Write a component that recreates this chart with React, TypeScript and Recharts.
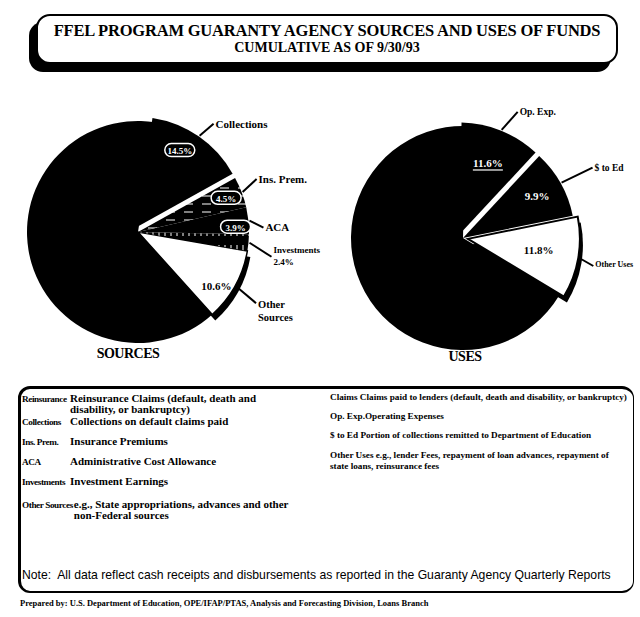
import React from "react";
import { PieChart, Pie, Cell } from "recharts";

// slices listed counter-clockwise, starting at the bottom edge of the white slice
const sourceNames = ["Other Sources", "Investments", "ACA", "Ins. Prem.", "Collections", "Reinsurance"];
const sourceShares = [10.6, 2.4, 3.9, 4.5, 14.5, 64.1];
const useNames = ["Other Uses", "$ to Ed", "Op. Exp.", "Claims"];
const useShares = [11.8, 9.9, 11.6, 66.7];

const sourceTerms = ["Reinsurance", "Collections", "Ins. Prem.", "ACA", "Investments", "Other Sources"];
const sourceDefs = [
  ["Reinsurance Claims (default, death and", "disability, or bankruptcy)"],
  ["Collections on default claims paid"],
  ["Insurance Premiums"],
  ["Administrative Cost Allowance"],
  ["Investment Earnings"],
  ["e.g., State appropriations, advances and other", "non-Federal sources"],
];
const useTerms = ["Claims", "Op. Exp.", "$ to Ed", "Other Uses"];
const useDefs = [
  ["Claims paid to lenders (default, death and disability, or bankruptcy)"],
  ["Operating Expenses"],
  ["Portion of collections remitted to Department of Education"],
  ["e.g., lender Fees, repayment of loan advances, repayment of", "state loans, reinsurance fees"],
];

const SERIF = "'Liberation Serif', 'Times New Roman', serif";
const SANS = "'Liberation Sans', Arial, sans-serif";
const RAD = Math.PI / 180;

const SRC = { cx: 133, cy: 227, r: 111, start: -48 };
const USE = { cx: 458, cy: 233, r: 112, start: -31 };

function polar(cx: number, cy: number, r: number, deg: number): [number, number] {
  return [cx + r * Math.cos(deg * RAD), cy - r * Math.sin(deg * RAD)];
}

// angle where slice i begins (counter-clockwise)
function sliceStart(shares: number[], start: number, i: number) {
  const total = shares.reduce((a, b) => a + b, 0);
  const before = shares.slice(0, i).reduce((a, b) => a + b, 0);
  return start + (before / total) * 360;
}
function sliceMid(shares: number[], start: number, i: number) {
  const total = shares.reduce((a, b) => a + b, 0);
  return sliceStart(shares, start, i) + (shares[i] / total) * 180;
}

const srcData = sourceNames.map((name, i) => ({ name, value: sourceShares[i] }));
const useData = useNames.map((name, i) => ({ name, value: useShares[i] }));

// exploded slices
const collIdx = sourceNames.indexOf("Collections");
const collOff = polar(0, 0, 5, sliceStart(sourceShares, SRC.start, collIdx) + 90);
const opIdx = useNames.indexOf("Op. Exp.");
const opOff = polar(0, 0, 5, sliceStart(useShares, USE.start, opIdx) + 90);
const ouIdx = useNames.indexOf("Other Uses");
const ouOff = polar(0, 0, 5, sliceMid(useShares, USE.start, ouIdx));

const srcFills: Record<string, string> = {
  Reinsurance: "#000",
  Collections: "none",
  "Ins. Prem.": "url(#hatchH)",
  ACA: "#000",
  Investments: "url(#hatchV)",
  "Other Sources": "#fff",
};
const useFills: Record<string, string> = {
  Claims: "#000",
  "Op. Exp.": "none",
  "$ to Ed": "#000",
  "Other Uses": "none",
};

type LabelCfg = {
  out?: string[];
  withPct?: boolean;
  lead: [number, number];
  textDx?: number;
  textDy?: number;
  fs: number;
  inner?: "pill" | "white" | "under" | "dark";
  inR?: number;
  inAdj?: number;
};

const srcCfg: Record<string, LabelCfg> = {
  Collections: { out: ["Collections"], lead: [14, -12], fs: 11, inner: "pill", inR: 0.8, inAdj: 5 },
  "Ins. Prem.": { out: ["Ins. Prem."], lead: [14, -13], fs: 11, inner: "pill", inR: 0.85 },
  ACA: { out: ["ACA"], lead: [14, 7], fs: 11, inner: "pill", inR: 0.88, inAdj: -3 },
  Investments: { out: ["Investments"], withPct: true, lead: [22, 14], textDy: -7, fs: 9 },
  "Other Sources": { out: ["Other", "Sources"], lead: [20, 17], textDy: 1, fs: 10.5, inner: "dark", inR: 0.86, inAdj: -6 },
};
const useCfg: Record<string, LabelCfg> = {
  "Op. Exp.": { out: ["Op. Exp."], lead: [16, -18], fs: 9.5, inner: "under", inR: 0.68 },
  "$ to Ed": { out: ["$ to Ed"], lead: [31, -15], fs: 9.5, inner: "white", inR: 0.76 },
  "Other Uses": { out: ["Other Uses"], lead: [14, 8], textDx: 0, textDy: -2, fs: 8, inner: "dark", inR: 0.64 },
};

function makeLabel(names: string[], cfgs: Record<string, LabelCfg>, offsets: Record<number, [number, number]>) {
  return (p: any) => {
    const i = p.index;
    const c = cfgs[names[i]];
    if (!c) return null;
    const off = offsets[i] || [0, 0];
    const cx = p.cx + off[0];
    const cy = p.cy + off[1];
    const pct = `${Number(p.value).toFixed(1)}%`;
    const [sx, sy] = polar(cx, cy, p.outerRadius + 1, p.midAngle);
    const ex = sx + c.lead[0];
    const ey = sy + c.lead[1];
    const lines = c.out ? [...c.out] : [];
    if (c.withPct) lines.push(pct);
    const tx = ex + 2 + (c.textDx || 0);
    const ty = ey + c.fs * 0.35 + (c.textDy || 0);
    const parts: React.ReactNode[] = [];
    parts.push(<line key="l" x1={sx} y1={sy} x2={ex} y2={ey} stroke="#000" strokeWidth={2} />);
    parts.push(
      <text key="t" x={tx} y={ty} fontFamily={SERIF} fontWeight="bold" fontSize={c.fs} fill="#000">
        {lines.map((s, k) => (
          <tspan key={k} x={tx} dy={k === 0 ? 0 : c.fs * 1.3}>{s}</tspan>
        ))}
      </text>
    );
    if (c.inner) {
      const [ix, iy] = polar(cx, cy, p.outerRadius * (c.inR || 0.8), p.midAngle + (c.inAdj || 0));
      const fill = c.inner === "dark" ? "#000" : "#fff";
      if (c.inner === "pill") {
        parts.push(<rect key="p" x={ix - 15} y={iy - 7} width={30} height={13} rx={6.5} fill="#000" stroke="#fff" strokeWidth={1.5} />);
      }
      if (c.inner === "under") {
        parts.push(<line key="u" x1={ix - 15} y1={iy + 6} x2={ix + 15} y2={iy + 6} stroke="#fff" strokeWidth={1.2} />);
      }
      parts.push(
        <text key="i" x={ix} y={iy + 3.5} textAnchor="middle" fontFamily={SERIF} fontWeight="bold" fontSize={c.inner === "pill" ? 9 : 11} fill={fill}>
          {pct}
        </text>
      );
    }
    return <g>{parts}</g>;
  };
}

const srcLabel = makeLabel(sourceNames, srcCfg, { [collIdx]: collOff });
const useLabel = makeLabel(useNames, useCfg, { [opIdx]: opOff, [ouIdx]: ouOff });

export default function App() {
  return (
    <div style={{ position: "absolute", left: 0, top: 0, width: 640, height: 617, background: "#fff", fontFamily: SERIF, overflow: "hidden" }}>
      {/* title box */}
      <div
        style={{
          position: "absolute", left: 36, top: 14, width: 578, height: 46,
          border: "2px solid #000", borderRadius: 14, boxShadow: "-7px 8px 0 0 #000",
          textAlign: "center", fontWeight: "bold", background: "#fff",
        }}
      >
        <div style={{ fontSize: 16.5, marginTop: 6, lineHeight: "17px", letterSpacing: -0.2, whiteSpace: "nowrap" }}>
          FFEL PROGRAM GUARANTY AGENCY SOURCES AND USES OF FUNDS
        </div>
        <div style={{ fontSize: 14, lineHeight: "17px" }}>CUMULATIVE AS OF 9/30/93</div>
      </div>

      <div style={{ position: "absolute", left: 0, top: 0 }}>
        <PieChart width={640} height={375}>
          <defs>
            <pattern id="hatchH" width="18" height="8" patternUnits="userSpaceOnUse">
              <rect width="18" height="8" fill="#000" />
              <line x1="4" y1="4" x2="13" y2="4" stroke="#fff" strokeWidth="1" />
            </pattern>
            <pattern id="hatchV" width="6" height="16" patternUnits="userSpaceOnUse">
              <rect width="6" height="16" fill="#000" />
              <line x1="3" y1="5" x2="3" y2="12" stroke="#fff" strokeWidth="1" />
            </pattern>
          </defs>

          {/* SOURCES: shadow under white slice */}
          <Pie data={srcData} dataKey="value" nameKey="name" cx={SRC.cx + 3} cy={SRC.cy + 6} outerRadius={SRC.r}
            startAngle={SRC.start} endAngle={SRC.start + 360} isAnimationActive={false} stroke="none" label={false}>
            {sourceNames.map((n) => <Cell key={n} fill={n === "Other Sources" ? "#000" : "none"} stroke="none" />)}
          </Pie>
          <Pie data={srcData} dataKey="value" nameKey="name" cx={SRC.cx} cy={SRC.cy} outerRadius={SRC.r}
            startAngle={SRC.start} endAngle={SRC.start + 360} isAnimationActive={false} label={false}>
            {sourceNames.map((n) => (
              <Cell key={n} fill={srcFills[n]} stroke={n === "Other Sources" ? "#000" : "none"} strokeWidth={1.5} />
            ))}
          </Pie>
          <Pie data={srcData} dataKey="value" nameKey="name" cx={SRC.cx + collOff[0]} cy={SRC.cy + collOff[1]} outerRadius={SRC.r}
            startAngle={SRC.start} endAngle={SRC.start + 360} isAnimationActive={false} label={false}>
            {sourceNames.map((n) => <Cell key={n} fill={n === "Collections" ? "#000" : "none"} stroke="none" />)}
          </Pie>
          <Pie data={srcData} dataKey="value" nameKey="name" cx={SRC.cx} cy={SRC.cy} outerRadius={SRC.r}
            startAngle={SRC.start} endAngle={SRC.start + 360} isAnimationActive={false} label={srcLabel} labelLine={false}>
            {sourceNames.map((n) => <Cell key={n} fill="none" stroke="none" />)}
          </Pie>

          {/* USES */}
          <Pie data={useData} dataKey="value" nameKey="name" cx={USE.cx + ouOff[0] + 3} cy={USE.cy + ouOff[1] + 6} outerRadius={USE.r}
            startAngle={USE.start} endAngle={USE.start + 360} isAnimationActive={false} label={false}>
            {useNames.map((n) => <Cell key={n} fill={n === "Other Uses" ? "#000" : "none"} stroke="none" />)}
          </Pie>
          <Pie data={useData} dataKey="value" nameKey="name" cx={USE.cx} cy={USE.cy} outerRadius={USE.r}
            startAngle={USE.start} endAngle={USE.start + 360} isAnimationActive={false} label={false}>
            {useNames.map((n) => <Cell key={n} fill={useFills[n]} stroke="none" />)}
          </Pie>
          <Pie data={useData} dataKey="value" nameKey="name" cx={USE.cx + opOff[0]} cy={USE.cy + opOff[1]} outerRadius={USE.r}
            startAngle={USE.start} endAngle={USE.start + 360} isAnimationActive={false} label={false}>
            {useNames.map((n) => <Cell key={n} fill={n === "Op. Exp." ? "#000" : "none"} stroke="none" />)}
          </Pie>
          <Pie data={useData} dataKey="value" nameKey="name" cx={USE.cx + ouOff[0]} cy={USE.cy + ouOff[1]} outerRadius={USE.r}
            startAngle={USE.start} endAngle={USE.start + 360} isAnimationActive={false} label={false}>
            {useNames.map((n) => (
              <Cell key={n} fill={n === "Other Uses" ? "#fff" : "none"} stroke={n === "Other Uses" ? "#000" : "none"} strokeWidth={2} />
            ))}
          </Pie>
          <Pie data={useData} dataKey="value" nameKey="name" cx={USE.cx} cy={USE.cy} outerRadius={USE.r}
            startAngle={USE.start} endAngle={USE.start + 360} isAnimationActive={false} label={useLabel} labelLine={false}>
            {useNames.map((n) => <Cell key={n} fill="none" stroke="none" />)}
          </Pie>
        </PieChart>
      </div>

      <div style={{ position: "absolute", left: 88, top: 346, width: 80, textAlign: "center", fontWeight: "bold", fontSize: 14, letterSpacing: -0.5 }}>
        SOURCES
      </div>
      <div style={{ position: "absolute", left: 430, top: 349, width: 70, textAlign: "center", fontWeight: "bold", fontSize: 14, letterSpacing: -0.5 }}>
        USES
      </div>

      {/* definitions box */}
      <div
        style={{
          position: "absolute", left: 18, top: 386, width: 612, height: 202,
          borderTop: "3px solid #000", borderLeft: "3px solid #000", borderRight: "1.5px solid #000", borderBottom: "2px solid #000",
          borderRadius: 12,
        }}
      />
      {sourceTerms.map((t, i) => {
        const tops = [393, 416, 436, 456, 476, 499];
        return (
          <div key={t} style={{ position: "absolute", left: 22, top: tops[i], fontWeight: "bold", lineHeight: "11px", whiteSpace: "nowrap", display: "flex", alignItems: "baseline" }}>
            <span style={{ minWidth: 47, paddingRight: 1, fontSize: 9.2, letterSpacing: -0.4 }}>{t}</span>
            <span style={{ fontSize: 11 }}>
              {sourceDefs[i].map((d, k) => <div key={k}>{d}</div>)}
            </span>
          </div>
        );
      })}
      {useTerms.map((t, i) => {
        const tops = [392, 411, 430, 450];
        return (
          <div key={t} style={{ position: "absolute", left: 330, top: tops[i], fontWeight: "bold", fontSize: 9.2, lineHeight: "10.5px", whiteSpace: "nowrap" }}>
            {useDefs[i].map((d, k) => (
              <div key={k}>{k === 0 ? `${t}${t === "Op. Exp." ? "" : t === "Other Uses" ? " " : "  "}${d}` : d}</div>
            ))}
          </div>
        );
      })}
      <div style={{ position: "absolute", left: 22, top: 568, fontFamily: SANS, fontSize: 12.2, whiteSpace: "nowrap" }}>
        Note:&nbsp; All data reflect cash receipts and disbursements as reported in the Guaranty Agency Quarterly Reports
      </div>
      <div style={{ position: "absolute", left: 20, top: 598, fontWeight: "bold", fontSize: 8.5, whiteSpace: "nowrap" }}>
        Prepared by: U.S. Department of Education, OPE/IFAP/PTAS, Analysis and Forecasting Division, Loans Branch
      </div>
    </div>
  );
}
